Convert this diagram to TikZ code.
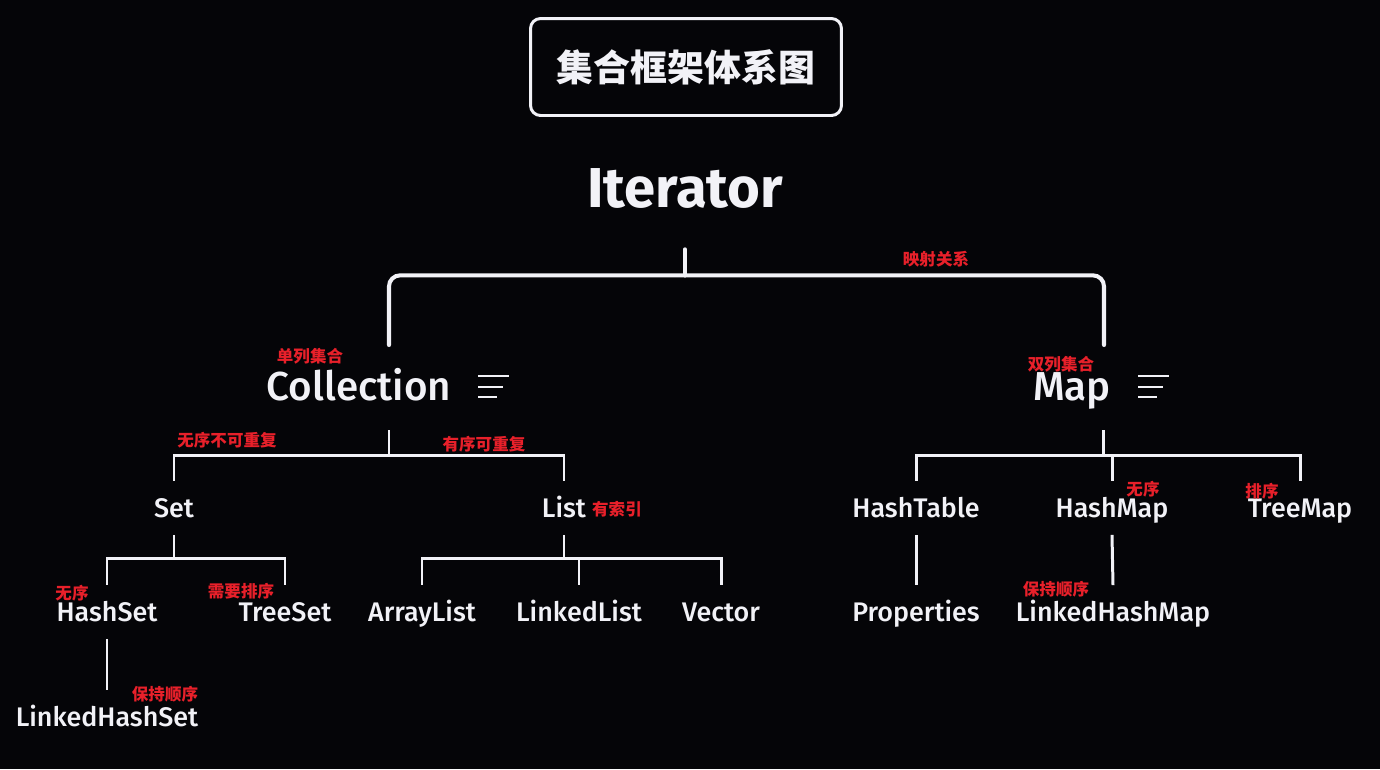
\documentclass[tikz,border=0pt]{standalone}
\usepackage{fontspec}
\setmainfont{Fira Sans}[UprightFont=* Medium, BoldFont=* Bold]
\newfontfamily\cjk{Noto Sans CJK SC}
\definecolor{bg}{HTML}{050508}
\definecolor{fg}{HTML}{F2F2F7}
\definecolor{note}{HTML}{E8202A}
\tikzset{
  leaf/.style={text=fg, font=\fontsize{15.3}{18}\selectfont, text height=10.5pt, text depth=0pt, inner sep=0pt, minimum height=1.06cm},
  head/.style={text=fg, font=\fontsize{23}{27}\selectfont, text height=15.8pt, text depth=0pt, inner sep=0pt, minimum height=1.72cm},
  remark/.style={text=note, font=\cjk\bfseries\fontsize{9.4}{11}\selectfont, inner sep=0pt},
  branch/.style={draw=fg, line width=1.7pt},
  brace/.style={draw=fg, line width=2.3pt, line cap=round, rounded corners=0.22cm},
  menu/.style={draw=fg, line width=1.6pt},
}
\begin{document}
\begin{tikzpicture}[x=0.02cm, y=-0.02cm]
\fill[bg] (0,0) rectangle (1380,769);
\useasboundingbox (0,0) rectangle (1380,769);
% title
\node[draw=fg, line width=1.7pt, rounded corners=0.2cm, minimum width=6.22cm, minimum height=1.94cm,
  text=fg, font=\cjk\bfseries\fontsize{21}{24}\selectfont] (title) at (686,67) {集合框架体系图};
\node[text=fg, font=\bfseries\fontsize{32}{36}\selectfont, text height=22pt, text depth=0pt, inner sep=0pt,
  minimum height=2.44cm] (iter) at (685,188) {Iterator};
% first level
\node[head] (coll) at (359,387) {Collection};
\node[head] (map) at (1072,387) {Map};
\coordinate (collIn) at (389,345);
\coordinate (collOut) at (389,430);
\coordinate (mapIn) at (1104,345);
\coordinate (mapOut) at (1103,430);
\draw[brace] (iter.south) -- ++(0,26) coordinate (ij);
\draw[brace] (ij) -| (collIn);
\draw[brace] (ij) -| (mapIn);
\foreach \x in {478,1138}{
  \draw[menu] (\x,376) -- ++(31,0);
  \draw[menu] (\x,387) -- ++(25,0);
  \draw[menu] (\x,397) -- ++(19,0);
}
\node[remark] (r1) at (936,259) {映射关系};
\node[remark] (r2) at (310,356) {单列集合};
\node[remark] (r3) at (1061,364) {双列集合};
% collection side
\node[leaf] (set) at (174,508) {Set};
\node[leaf] (list) at (564,508) {List};
\draw[branch] (collOut) -- ++(0,25) coordinate (cj);
\draw[branch] (cj) -| (set.north);
\draw[branch] (cj) -| (list.north);
\node[remark] (r4) at (227,440) {无序不可重复};
\node[remark] (r5) at (484,444) {有序可重复};
\node[remark] (r6) at (617,509) {有索引};
\node[leaf] (hset) at (107,612) {HashSet};
\node[leaf] (tset) at (285,612) {TreeSet};
\draw[branch] (set.south) -- ++(0,24) coordinate (sj);
\draw[branch] (sj) -| (hset.north);
\draw[branch] (sj) -| (tset.north);
\node[remark] (r7) at (72,593) {无序};
\node[remark] (r8) at (241,591) {需要排序};
\node[leaf] (lhset) at (107,717) {LinkedHashSet};
\draw[branch] (hset.south) -- (lhset.north);
\node[remark] (r9) at (165,694) {保持顺序};
\node[leaf] (alist) at (422,612) {ArrayList};
\node[leaf] (llist) at (579,612) {LinkedList};
\node[leaf] (vec) at (721,612) {Vector};
\draw[branch] (list.south) -- ++(0,24) coordinate (lj);
\foreach \n in {alist,llist,vec}
  \draw[branch] (lj) -| (\n.north);
% map side
\node[leaf] (htab) at (916,508) {HashTable};
\node[leaf] (hmap) at (1112,508) {HashMap};
\node[leaf] (tmap) at (1300,508) {TreeMap};
\draw[branch] (mapOut) -- ++(0,25) coordinate (mj);
\foreach \n in {htab,hmap,tmap}
  \draw[branch] (mj) -| (\n.north);
\node[remark] (r10) at (1143,489) {无序};
\node[remark] (r11) at (1262,491) {排序};
\node[leaf] (prop) at (916,612) {Properties};
\node[leaf] (lhmap) at (1113,612) {LinkedHashMap};
\draw[branch] (htab.south) -- (prop.north);
\draw[branch] (hmap.south) -- (lhmap.north);
\node[remark] (r12) at (1056,589) {保持顺序};
\end{tikzpicture}
\end{document}
